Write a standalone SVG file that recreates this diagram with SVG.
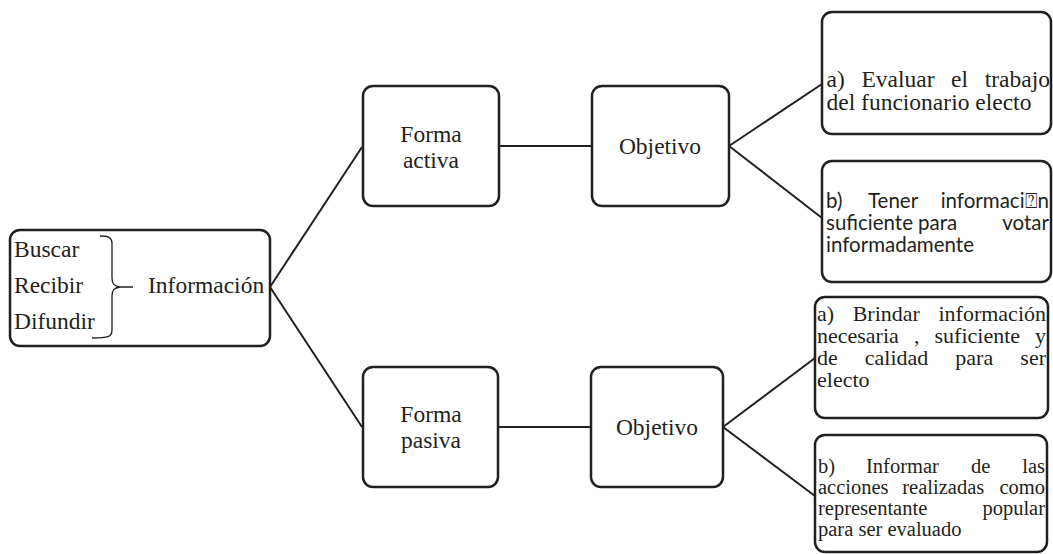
<svg xmlns="http://www.w3.org/2000/svg" width="1053" height="554" viewBox="0 0 1053 554">
<style>
.box{fill:#fff;stroke:#231f20;stroke-width:2.5}
.ln{stroke:#231f20;stroke-width:2;fill:none}
.t{font-family:"Liberation Serif","Times New Roman",serif;fill:#231f20}
.c{font-family:Lato,"Noto Sans","DejaVu Sans",sans-serif;fill:#231f20;font-size:20.5px}
.m{text-anchor:middle}
.e{text-anchor:end}
</style>
<rect width="1053" height="554" fill="#fff"/>
<g id="connectors">
<path class="ln" d="M270,287 L362,147"/>
<path class="ln" d="M270,287 L362,427"/>
<path class="ln" d="M499,146 L592,146"/>
<path class="ln" d="M498,427 L591,427"/>
<path class="ln" d="M729,146 L822,84"/>
<path class="ln" d="M729,146 L822,218"/>
<path class="ln" d="M723,427 L815,358"/>
<path class="ln" d="M723,427 L815,496"/>
</g>
<g id="informacion">
<rect class="box" x="10" y="230" width="260" height="116" rx="10"/>
<g class="t" font-size="23.5">
<text x="14" y="257">Buscar</text>
<text x="14" y="293">Recibir</text>
<text x="14" y="329">Difundir</text>
<text x="148" y="293">Información</text>
</g>
<path d="M100,236 C108,236 112,237 112,244 L112,278 C112,284 114,286 120,287 C114,288 112,290 112,296 L112,330 C112,337 108,338 92,338 M120,287 L133,287" fill="none" stroke="#231f20" stroke-width="1.3"/>
</g>
<g id="forma-activa">
<rect class="box" x="363" y="86" width="136" height="120" rx="10"/>
<text class="t m" font-size="23.5" x="431" y="142">Forma</text>
<text class="t m" font-size="23.5" x="431" y="168">activa</text>
</g>
<g id="objetivo-1">
<rect class="box" x="592" y="86" width="137" height="120" rx="10"/>
<text class="t m" font-size="23.5" x="660" y="154">Objetivo</text>
</g>
<g id="forma-pasiva">
<rect class="box" x="363" y="367" width="135" height="120" rx="10"/>
<text class="t m" font-size="23.5" x="431" y="422">Forma</text>
<text class="t m" font-size="23.5" x="431" y="448">pasiva</text>
</g>
<g id="objetivo-2">
<rect class="box" x="591" y="367" width="132" height="120" rx="10"/>
<text class="t m" font-size="23.5" x="657" y="435">Objetivo</text>
</g>
<g id="obj-a1">
<rect class="box" x="822" y="12" width="229" height="122" rx="10"/>
<g class="t" font-size="23.5">
<text x="826.5" y="87">a)</text>
<text x="861.4" y="87">Evaluar</text>
<text x="951.1" y="87">el</text>
<text class="e" x="1050" y="87">trabajo</text>
<text x="826.5" y="110">del funcionario electo</text>
</g>
</g>
<g id="obj-b1">
<rect class="box" x="822" y="161" width="229" height="121" rx="10"/>
<text class="c" x="826" y="208">b)</text>
<text class="c" x="868" y="208">Tener</text>
<text class="c e" x="1049" y="208">informaci⍰n</text>
<text class="c" x="826" y="230">suficiente</text>
<text class="c" x="918" y="230">para</text>
<text class="c e" x="1049" y="230">votar</text>
<text class="c" x="826" y="252">informadamente</text>
</g>
<g id="obj-a2">
<rect class="box" x="815" y="297" width="233" height="121" rx="10"/>
<g class="t" font-size="22">
<text x="817" y="321">a)</text>
<text x="852.7" y="321">Brindar</text>
<text class="e" x="1046" y="321">información</text>
<text x="817" y="343">necesaria</text>
<text x="913.9" y="343">,</text>
<text x="934.5" y="343">suficiente</text>
<text class="e" x="1046" y="343">y</text>
<text x="817" y="365">de</text>
<text x="864.8" y="365">calidad</text>
<text x="955.3" y="365">para</text>
<text class="e" x="1046" y="365">ser</text>
<text x="817" y="387">electo</text>
</g>
</g>
<g id="obj-b2">
<rect class="box" x="815" y="435" width="232" height="117" rx="10"/>
<g class="t" font-size="20.5">
<text x="818" y="473">b)</text>
<text x="866" y="473">Informar</text>
<text x="971" y="473">de</text>
<text class="e" x="1045" y="473">las</text>
<text x="818" y="494">acciones</text>
<text x="902.3" y="494">realizadas</text>
<text class="e" x="1045" y="494">como</text>
<text x="818" y="515">representante</text>
<text class="e" x="1045" y="515">popular</text>
<text x="818" y="536">para ser evaluado</text>
</g>
</g>
</svg>
